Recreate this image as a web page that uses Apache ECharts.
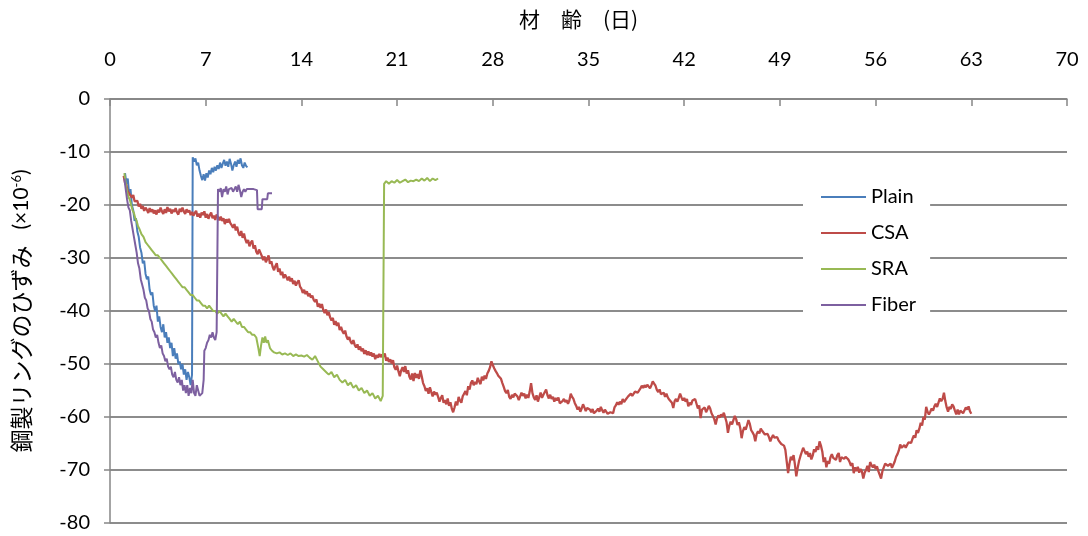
<!DOCTYPE html>
<html>
<head>
<meta charset="utf-8">
<script src="https://cdn.jsdelivr.net/npm/echarts@6/dist/echarts.min.js"></script>
<style>
  html, body { margin: 0; padding: 0; background: #fff; }
  #chart { width: 1088px; height: 536px; }
</style>
</head>
<body>
<div id="chart"></div>
<script>
// Ring strain vs. age (days); strain in ×10^-6
const seriesNames = ['Plain', 'CSA', 'SRA', 'Fiber'];
const seriesColors = ['#4A7EBB', '#BE4B48', '#98B954', '#7D60A0'];

const plainData = [
  [1.1,-14],[1.2,-16],[1.3,-15],[1.4,-18],[1.5,-17],[1.6,-20],[1.7,-21],[1.8,-23],[1.9,-22.5],[2.0,-25],
  [2.1,-26],[2.2,-28],[2.3,-29],[2.4,-31],[2.5,-30.5],[2.6,-33],[2.7,-34],[2.8,-33.5],[2.9,-36],[3.0,-37],
  [3.1,-36.5],[3.2,-39],[3.3,-40],[3.4,-39],[3.5,-42],[3.6,-41],[3.7,-43],[3.8,-44],[3.9,-42.5],[4.0,-45],
  [4.1,-44],[4.2,-46],[4.3,-45],[4.4,-47],[4.5,-46],[4.6,-48.5],[4.7,-47],[4.8,-49],[4.9,-48],[5.0,-50],
  [5.1,-49.5],[5.2,-51],[5.3,-50],[5.4,-52],[5.5,-51],[5.6,-53],[5.7,-51.5],[5.8,-52.5],[5.9,-54],[6.0,-52],
  [6.05,-11],[6.15,-11.8],[6.25,-11.2],[6.35,-12.5],[6.45,-12],[6.55,-13.5],[6.65,-14.5],[6.75,-15.3],[6.85,-14.2],[6.95,-15.4],
  [7.05,-14],[7.15,-14.8],[7.25,-13.5],[7.35,-14.2],[7.45,-13],[7.55,-13.8],[7.65,-12.8],[7.75,-13.5],[7.85,-12.5],[7.95,-13.2],
  [8.05,-12],[8.15,-13],[8.25,-12.2],[8.35,-11.5],[8.45,-12.6],[8.55,-11.8],[8.65,-12.8],[8.75,-11.3],[8.85,-12.2],[8.95,-13.5],
  [9.05,-12.5],[9.15,-11.8],[9.25,-12.8],[9.35,-11.5],[9.45,-12.2],[9.55,-11.2],[9.65,-12.5],[9.75,-13],[9.85,-12],[9.95,-12.6],[10.05,-12.9]
];

// CSA is logged every 0.1 day from day 1.0 to day 63.0
const csaStartDay = 1.0;
const csaStepDay = 0.1;
const csaValues = [
  -14.5,-15.8,-16.3,-17.5,-17.2,-18.2,-18.6,-18.1,-19.3,-19.5,
  -19.2,-20.3,-19.8,-20.7,-20.2,-21.1,-20.5,-20.9,-21.5,-20.6,
  -21.3,-20.8,-21.6,-21.0,-21.8,-20.9,-21.4,-20.5,-21.2,-21.7,
  -20.8,-21.5,-20.4,-21.2,-20.7,-21.6,-20.9,-21.3,-20.6,-21.4,
  -21.8,-20.7,-21.3,-20.5,-21.2,-21.7,-20.8,-21.4,-21.0,-21.9,
  -21.3,-22.0,-21.5,-21.1,-22.2,-21.6,-22.4,-21.4,-21.9,-21.2,
  -22.4,-21.7,-22.6,-21.9,-21.4,-22.5,-22.0,-22.8,-21.8,-22.3,
  -22.9,-22.2,-23.0,-22.5,-23.6,-22.7,-23.3,-22.6,-23.4,-23.8,
  -24.3,-23.6,-24.8,-24.1,-25.3,-25.8,-24.9,-26.2,-25.4,-26.5,
  -27.2,-26.6,-27.8,-27.1,-26.7,-28.2,-27.6,-28.8,-29.3,-28.4,
  -28.1,-29.6,-30.4,-29.7,-30.8,-30.2,-29.5,-31.1,-30.6,-31.7,
  -32.3,-31.5,-31.0,-32.6,-32.0,-33.2,-32.6,-33.8,-33.1,-33.6,
  -34.2,-33.5,-34.4,-33.8,-34.9,-34.3,-35.2,-34.6,-34.2,-35.4,
  -35.8,-36.6,-36.0,-36.8,-36.3,-37.2,-36.7,-37.5,-37.1,-37.9,
  -38.3,-37.8,-39.2,-38.6,-39.4,-38.7,-39.8,-40.4,-39.7,-40.8,
  -40.2,-41.2,-41.8,-41.3,-42.6,-41.9,-42.8,-42.2,-43.6,-43.0,
  -43.8,-44.3,-43.7,-44.8,-45.4,-44.9,-45.8,-46.2,-45.5,-46.4,
  -46.9,-46.3,-47.3,-46.7,-47.6,-47.1,-48.1,-47.4,-48.3,-47.6,
  -48.4,-47.8,-48.6,-48.0,-49.1,-48.3,-48.8,-48.1,-48.7,-48.2,
  -48.6,-48.0,-49.4,-48.8,-49.6,-49.1,-49.9,-49.3,-50.6,-51.1,
  -50.3,-51.4,-52.3,-51.2,-50.6,-51.5,-50.4,-51.8,-51.2,-52.4,
  -52.9,-51.8,-53.2,-51.7,-52.6,-51.9,-52.8,-51.2,-52.3,-53.6,
  -54.2,-55.1,-54.6,-55.6,-54.4,-55.3,-56.1,-55.2,-55.8,-55.4,
  -56.2,-57.1,-56.4,-55.9,-57.3,-56.8,-57.6,-56.5,-57.9,-57.2,
  -58.4,-59.1,-58.2,-57.1,-57.8,-56.2,-56.9,-57.3,-56.1,-55.6,
  -55.1,-55.9,-54.2,-54.8,-53.6,-53.1,-54.0,-53.4,-53.8,-52.6,
  -53.3,-53.8,-52.4,-53.1,-52.2,-52.8,-51.8,-51.3,-50.6,-49.5,
  -50.2,-50.8,-51.3,-51.7,-52.2,-51.9,-52.8,-53.6,-54.3,-55.1,
  -55.5,-54.9,-56.2,-56.6,-55.8,-56.3,-55.6,-55.3,-56.1,-56.8,
  -56.1,-55.4,-56.0,-55.6,-56.5,-55.8,-56.4,-55.2,-53.6,-55.5,
  -56.3,-56.8,-55.9,-57.1,-56.2,-55.4,-56.4,-55.8,-56.1,-54.8,
  -55.9,-56.5,-55.8,-56.6,-56.2,-57.1,-56.4,-56.9,-56.3,-57.4,
  -57.7,-57.0,-56.6,-57.2,-56.8,-57.5,-56.9,-55.6,-56.2,-56.6,
  -57.4,-57.9,-58.6,-58.1,-59.0,-58.4,-57.6,-58.2,-58.9,-58.3,
  -58.0,-58.6,-59.1,-58.5,-59.3,-59.6,-58.8,-58.4,-59.0,-58.1,
  -58.7,-59.2,-58.6,-58.9,-59.4,-59.7,-59.1,-58.8,-59.3,-58.2,
  -57.8,-57.2,-57.7,-57.1,-57.6,-56.6,-57.2,-56.8,-57.1,-56.1,
  -56.4,-55.6,-56.0,-55.7,-55.2,-54.9,-55.4,-55.1,-54.6,-54.1,
  -54.5,-54.0,-54.4,-53.9,-54.2,-54.6,-54.0,-53.3,-53.7,-54.1,
  -54.9,-55.3,-54.8,-55.7,-56.0,-55.4,-56.2,-55.6,-56.3,-56.7,
  -56.9,-57.3,-58.3,-57.0,-56.6,-57.1,-56.4,-55.6,-56.3,-56.9,
  -56.4,-57.1,-56.6,-58.0,-57.3,-57.7,-56.9,-57.2,-56.6,-56.9,
  -58.4,-57.8,-60.2,-58.6,-58.9,-58.2,-59.1,-58.6,-57.9,-58.4,
  -59.3,-59.8,-60.4,-61.4,-60.3,-59.7,-60.1,-59.5,-59.9,-59.2,
  -60.1,-61.0,-63.0,-61.6,-60.9,-61.4,-60.6,-59.8,-60.4,-61.5,
  -61.0,-62.1,-64.0,-62.6,-61.9,-62.4,-61.5,-60.6,-61.3,-62.5,
  -62.9,-63.4,-64.6,-63.2,-62.7,-63.1,-62.2,-62.6,-62.9,-63.3,
  -63.6,-63.2,-63.8,-64.6,-63.9,-63.4,-63.9,-64.2,-63.8,-64.4,
  -64.7,-65.1,-64.8,-65.4,-66.2,-68.4,-70.6,-68.8,-67.5,-68.1,
  -67.2,-69.0,-71.2,-69.6,-68.3,-67.4,-66.6,-65.8,-66.4,-67.0,
  -66.5,-67.5,-66.8,-68.0,-67.3,-66.1,-66.6,-65.5,-66.2,-64.6,
  -65.4,-66.5,-68.5,-67.6,-69.5,-68.3,-68.8,-67.6,-67.0,-67.7,
  -67.5,-68.1,-67.2,-66.8,-68.5,-67.6,-67.3,-67.9,-67.5,-67.2,
  -68.0,-68.5,-69.2,-68.7,-70.6,-69.5,-70.2,-69.4,-70.5,-69.8,
  -70.3,-71.6,-70.5,-70.0,-69.2,-70.4,-68.5,-69.1,-69.5,-69.0,
  -69.8,-69.3,-70.2,-70.5,-71.6,-70.2,-69.5,-68.8,-68.5,-69.2,
  -69.5,-68.8,-69.6,-69.3,-68.4,-67.5,-67.0,-66.3,-65.2,-65.8,
  -66.0,-65.3,-65.8,-65.5,-64.8,-64.5,-64.9,-64.1,-63.5,-63.9,
  -62.5,-63.0,-62.2,-61.1,-61.6,-60.0,-60.5,-58.1,-59.0,-59.5,
  -59.0,-58.4,-58.8,-58.0,-57.5,-58.1,-57.3,-56.5,-57.0,-56.6,
  -55.4,-57.0,-58.2,-59.0,-58.1,-58.5,-57.6,-58.0,-58.8,-59.5,
  -58.6,-59.5,-58.8,-58.5,-59.3,-59.0,-58.2,-58.6,-58.0,-58.9,
  -59.4
];

const sraData = [
  [1.05,-14],[1.15,-16],[1.25,-17.5],[1.35,-18.5],[1.45,-19],[1.55,-20],[1.65,-21],[1.75,-21.5],[1.85,-22.5],[1.95,-23],
  [2.05,-24],[2.15,-24.5],[2.3,-25.5],[2.45,-26],[2.6,-27],[2.75,-27.5],[2.9,-28],[3.05,-28.5],[3.2,-29],[3.35,-29.5],
  [3.5,-29.5],[3.65,-30],[3.8,-30.5],[3.95,-31],[4.1,-31.5],[4.25,-32],[4.4,-32.5],[4.55,-33],[4.7,-33.5],[4.85,-34],
  [5.0,-34.5],[5.15,-35],[5.3,-35.5],[5.45,-35.5],[5.6,-36],[5.75,-36.5],[5.9,-37],[6.05,-37],[6.2,-37.5],[6.35,-38],
  [6.5,-38],[6.65,-38.5],[6.8,-39],[6.95,-39],[7.1,-39.5],[7.25,-39],[7.4,-39.5],[7.55,-40],[7.7,-40],[7.85,-40.5],
  [8.0,-40],[8.15,-40.5],[8.3,-41],[8.45,-40.5],[8.6,-41],[8.75,-41.5],[8.9,-42],[9.05,-41.5],[9.2,-42],[9.35,-42.5],
  [9.5,-42],[9.65,-43],[9.8,-43],[9.95,-43.5],[10.1,-44],[10.25,-44],[10.4,-44.5],[10.55,-44.5],[10.7,-45],[10.85,-47],
  [10.95,-48.5],[11.05,-46.5],[11.15,-45],[11.25,-46],[11.35,-44.8],[11.45,-46],[11.55,-45.5],[11.7,-47],[11.85,-47.5],[12.0,-47.8],
  [12.2,-48],[12.4,-47.8],[12.6,-48.2],[12.8,-48],[13.0,-48.3],[13.2,-48],[13.4,-48.5],[13.6,-48.2],[13.8,-48.5],[14.0,-48.4],
  [14.2,-48.6],[14.4,-48.3],[14.6,-48.8],[14.8,-49.2],[15.0,-48.5],[15.2,-49.5],[15.4,-50.5],[15.6,-51],[15.8,-51.5],[16.0,-52],
  [16.2,-51.5],[16.4,-52.5],[16.6,-52],[16.8,-53],[17.0,-53.5],[17.2,-53],[17.4,-54],[17.6,-53.5],[17.8,-54.5],[18.0,-54],
  [18.2,-55],[18.4,-54.5],[18.6,-55.5],[18.8,-55],[19.0,-56],[19.2,-55.5],[19.4,-56.5],[19.6,-56],[19.8,-57],[19.95,-56],
  [20.05,-16],[20.2,-15.5],[20.4,-16],[20.6,-15.5],[20.8,-15.8],[21.0,-15.3],[21.2,-15.8],[21.4,-15.5],[21.6,-15.2],[21.8,-15.7],
  [22.0,-15.4],[22.2,-15.5],[22.4,-15.2],[22.6,-15.5],[22.8,-15],[23.0,-15.4],[23.2,-14.9],[23.4,-15.5],[23.6,-15],[23.8,-15.3],[24.0,-15]
];

const fiberData = [
  [1.05,-15],[1.15,-17],[1.25,-19],[1.35,-20.5],[1.45,-21],[1.55,-23],[1.65,-24.5],[1.75,-26],[1.85,-27.5],[1.95,-29],
  [2.05,-31],[2.15,-32],[2.25,-34],[2.35,-35],[2.45,-36],[2.55,-37.5],[2.65,-38],[2.75,-39.5],[2.85,-40],[2.95,-41.5],
  [3.05,-42],[3.15,-43.5],[3.25,-44],[3.35,-45],[3.45,-44.5],[3.55,-46],[3.65,-47],[3.75,-46.5],[3.85,-48],[3.95,-48.5],
  [4.05,-49.5],[4.15,-49],[4.25,-50.5],[4.35,-51],[4.45,-50.5],[4.55,-52],[4.65,-52.5],[4.75,-51.5],[4.85,-53],[4.95,-53.5],
  [5.05,-52.5],[5.15,-54],[5.25,-53],[5.35,-55],[5.45,-54],[5.55,-55.5],[5.65,-54],[5.75,-56],[5.85,-54.5],[5.95,-55.5],
  [6.05,-53],[6.15,-55.5],[6.25,-56],[6.35,-54],[6.45,-55],[6.55,-56],[6.65,-56],[6.75,-55.5],[6.85,-53],[6.9,-47.5],
  [7.0,-47],[7.1,-46],[7.2,-45.5],[7.3,-44.5],[7.4,-45],[7.5,-44],[7.6,-45],[7.7,-45.5],[7.8,-44],[7.9,-17],
  [8.0,-17.5],[8.1,-16.8],[8.2,-18.5],[8.3,-17],[8.4,-17.5],[8.5,-16.5],[8.6,-18],[8.7,-17],[8.8,-17.3],[8.9,-16.8],
  [9.0,-17.5],[9.1,-17],[9.2,-16.5],[9.3,-17.5],[9.4,-16.2],[9.5,-17.2],[9.6,-18.5],[9.7,-17.5],[9.8,-17],[9.9,-17.5],
  [10.0,-17],[10.1,-17.2],[10.2,-17],[10.3,-17],[10.5,-17],[10.75,-17.2],[10.8,-20.8],[11.1,-20.8],[11.15,-18.9],[11.5,-18.9],
  [11.55,-17.8],[11.85,-17.8]
];

const xTicks = { min: 0, max: 70, interval: 7 };
const yTicks = { min: -80, max: 0, interval: 10 };

const csaData = csaValues.map((v, i) => [+(csaStartDay + i * csaStepDay).toFixed(1), v]);
const allData = [plainData, csaData, sraData, fiberData];

const latin = 'Lato, "Noto Sans", sans-serif';
const cjk = '"Noto Sans CJK JP", "Noto Sans", sans-serif';
const axisGray = '#868686';

const chart = echarts.init(document.getElementById('chart'), null, { renderer: 'canvas' });
chart.setOption({
  animation: false,
  backgroundColor: '#ffffff',
  color: seriesColors,
  grid: { left: 110, right: 21, top: 99, bottom: 13, containLabel: false },
  xAxis: {
    type: 'value',
    position: 'top',
    min: xTicks.min, max: xTicks.max, interval: xTicks.interval,
    name: '材　齢　(日)',
    nameLocation: 'middle',
    nameGap: 69,
    nameTextStyle: { fontFamily: cjk, fontSize: 21, color: '#000', padding: [0, 20, 0, 0] },
    axisLine: { show: true, onZero: false, lineStyle: { color: axisGray, width: 1.5 } },
    axisTick: { show: true, inside: true, length: 7, lineStyle: { color: axisGray, width: 1.5 } },
    axisLabel: { margin: 29, fontFamily: latin, fontSize: 20, color: '#000' },
    splitLine: { show: false }
  },
  yAxis: {
    type: 'value',
    min: yTicks.min, max: yTicks.max, interval: yTicks.interval,
    name: '{jp|鋼製リングのひずみ}{sp|　}{u|(×10}{sup|-6}{u|)}',
    nameLocation: 'middle',
    nameRotate: 90,
    nameGap: 77,
    nameTextStyle: {
      color: '#000',
      rich: {
        jp: { fontFamily: cjk, fontSize: 23, color: '#000' },
        sp: { fontFamily: cjk, fontSize: 16 },
        u: { fontFamily: latin, fontSize: 21, color: '#000' },
        sup: { fontFamily: latin, fontSize: 13, color: '#000', padding: [0, 0, 10, 0] }
      }
    },
    axisLine: { show: true, onZero: false, lineStyle: { color: axisGray, width: 1.5 } },
    axisTick: { show: true, inside: false, length: 6, lineStyle: { color: axisGray, width: 1.5 } },
    axisLabel: { margin: 20, fontFamily: latin, fontSize: 20, color: '#000' },
    splitLine: { show: true, lineStyle: { color: '#8c8c8c', width: 1.8 } }
  },
  legend: {
    orient: 'vertical',
    left: 803,
    top: 177,
    backgroundColor: '#ffffff',
    padding: [10, 14, 10, 18],
    itemGap: 16,
    itemWidth: 45,
    itemHeight: 2,
    icon: 'rect',
    textStyle: { fontFamily: latin, fontSize: 20, color: '#000', lineHeight: 20 },
    data: seriesNames
  },
  series: seriesNames.map((name, i) => ({
    name,
    type: 'line',
    data: allData[i],
    showSymbol: false,
    symbol: 'none',
    lineStyle: { width: i === 1 ? 2.3 : 2, color: seriesColors[i] },
    itemStyle: { color: seriesColors[i] },
    z: 2 + i
  }))
});
</script>
</body>
</html>
